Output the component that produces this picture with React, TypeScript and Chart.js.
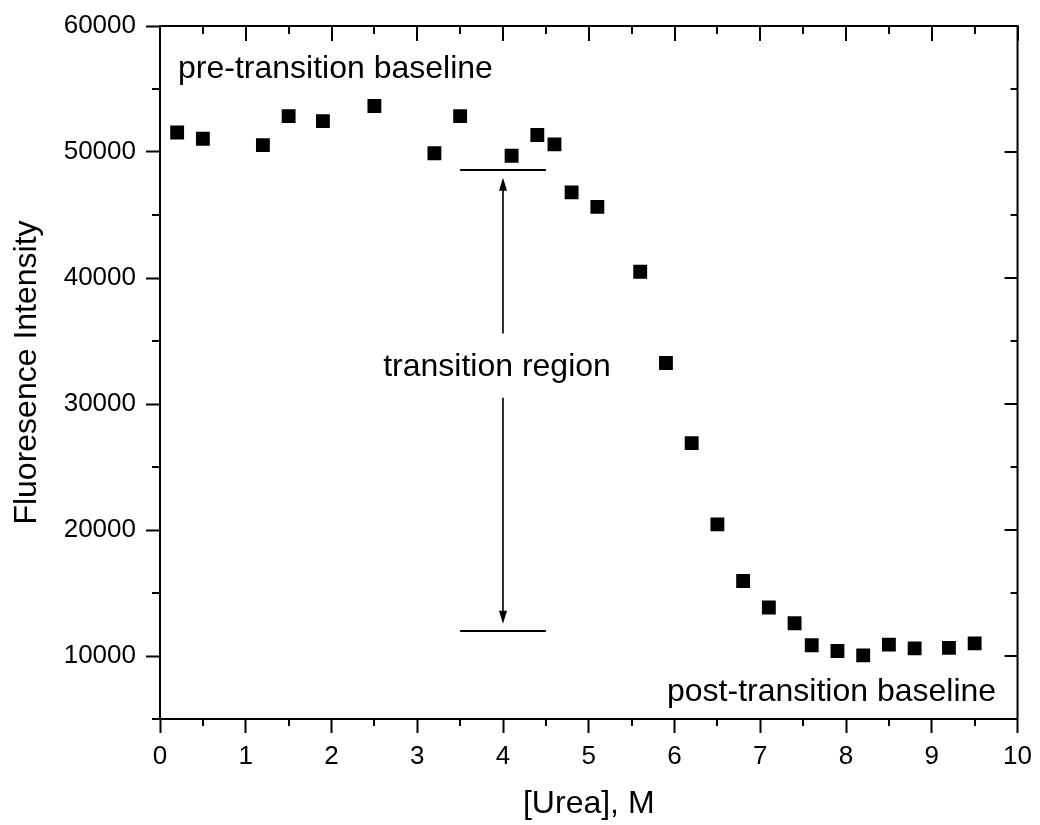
import React, { useEffect, useRef } from 'react';
import { Chart, registerables } from 'chart.js';

Chart.register(...registerables);

// ---- data ----
const ureaM = [0.2, 0.5, 1.2, 1.5, 1.9, 2.5, 3.2, 3.5, 4.1, 4.4, 4.6, 4.8, 5.1, 5.6, 5.9, 6.2, 6.5, 6.8, 7.1, 7.4, 7.6, 7.9, 8.2, 8.5, 8.8, 9.2, 9.5];
const intensity = [51550, 51050, 50550, 52850, 52450, 53650, 49900, 52850, 49700, 51350, 50600, 46800, 45650, 40500, 33250, 26900, 20450, 15950, 13850, 12600, 10850, 10400, 10050, 10900, 10600, 10650, 11000];

const xRange = [0, 10];
const yRange = [5000, 60000];
const xMinorTicks = [0.5, 1.5, 2.5, 3.5, 4.5, 5.5, 6.5, 7.5, 8.5, 9.5];
const xMajorTicks = [0, 1, 2, 3, 4, 5, 6, 7, 8, 9, 10];
const yMinorTicks = [5000, 15000, 25000, 35000, 45000, 55000];
const yMajorTicks = [10000, 20000, 30000, 40000, 50000, 60000];

const xTitle = '[Urea], M';
const yTitle = 'Fluoresence Intensity';

// annotation values (data units)
const preLabel = { text: 'pre-transition baseline', x: 0.21, y: 55850 };
const postLabel = { text: 'post-transition baseline', x: 9.75, y: 6400 };
const regionLabel = { text: 'transition region', x: 3.93, y: 32250 };
const upperBar = { x0: 3.5, x1: 4.5, y: 48550 };
const lowerBar = { x0: 3.5, x1: 4.5, y: 12000 };
const arrow = { x: 4.0, top: 47950, bottom: 12550, gapTop: 35600, gapBottom: 30500 };

const FONT = "'Liberation Sans', Arial, Helvetica, sans-serif";

const framePlugin = {
  id: 'frameAndAnnotations',
  afterDraw(chart: any) {
    const { ctx, chartArea } = chart;
    const { left, right, top, bottom } = chartArea;
    const xs = chart.scales.x;
    const ys = chart.scales.y;
    ctx.save();
    ctx.strokeStyle = '#000';
    ctx.fillStyle = '#000';
    ctx.lineWidth = 2;
    ctx.lineCap = 'butt';
    // top and right frame lines
    ctx.beginPath();
    ctx.moveTo(left - 1, top);
    ctx.lineTo(right + 1, top);
    ctx.moveTo(right, top - 1);
    ctx.lineTo(right, bottom + 1);
    ctx.stroke();
    // minor ticks bottom (outward) and top (inward)
    ctx.beginPath();
    for (const v of xMinorTicks) {
      const px = Math.round(xs.getPixelForValue(v));
      ctx.moveTo(px, bottom);
      ctx.lineTo(px, bottom + 7);
      ctx.moveTo(px, top);
      ctx.lineTo(px, top + 8);
    }
    for (const v of xMajorTicks) {
      const px = Math.round(xs.getPixelForValue(v));
      ctx.moveTo(px, top);
      ctx.lineTo(px, top + 15);
    }
    for (const v of yMinorTicks) {
      const py = Math.round(ys.getPixelForValue(v));
      ctx.moveTo(left, py);
      ctx.lineTo(left - 8, py);
      ctx.moveTo(right, py);
      ctx.lineTo(right - 7, py);
    }
    for (const v of yMajorTicks) {
      const py = Math.round(ys.getPixelForValue(v));
      ctx.moveTo(right, py);
      ctx.lineTo(right - 13, py);
    }
    ctx.stroke();

    // horizontal bars
    ctx.beginPath();
    for (const b of [upperBar, lowerBar]) {
      const py = Math.round(ys.getPixelForValue(b.y));
      ctx.moveTo(xs.getPixelForValue(b.x0), py);
      ctx.lineTo(xs.getPixelForValue(b.x1), py);
    }
    ctx.stroke();

    // double arrow
    const ax = Math.round(xs.getPixelForValue(arrow.x));
    const aTop = ys.getPixelForValue(arrow.top);
    const aBot = ys.getPixelForValue(arrow.bottom);
    const gT = ys.getPixelForValue(arrow.gapTop);
    const gB = ys.getPixelForValue(arrow.gapBottom);
    const headLen = 13;
    const headHalf = 4;
    ctx.lineWidth = 1.6;
    ctx.beginPath();
    ctx.moveTo(ax, aTop + headLen - 1);
    ctx.lineTo(ax, gT);
    ctx.moveTo(ax, gB);
    ctx.lineTo(ax, aBot - headLen + 1);
    ctx.stroke();
    ctx.beginPath();
    ctx.moveTo(ax, aTop);
    ctx.lineTo(ax - headHalf, aTop + headLen);
    ctx.lineTo(ax + headHalf, aTop + headLen);
    ctx.closePath();
    ctx.fill();
    ctx.beginPath();
    ctx.moveTo(ax, aBot);
    ctx.lineTo(ax - headHalf, aBot - headLen);
    ctx.lineTo(ax + headHalf, aBot - headLen);
    ctx.closePath();
    ctx.fill();

    // texts
    ctx.font = `32px ${FONT}`;
    ctx.textBaseline = 'alphabetic';
    ctx.textAlign = 'left';
    ctx.fillText(preLabel.text, xs.getPixelForValue(preLabel.x), ys.getPixelForValue(preLabel.y));
    ctx.textAlign = 'right';
    ctx.fillText(postLabel.text, xs.getPixelForValue(postLabel.x), ys.getPixelForValue(postLabel.y));
    ctx.textAlign = 'center';
    ctx.fillText(regionLabel.text, xs.getPixelForValue(regionLabel.x), ys.getPixelForValue(regionLabel.y));
    ctx.restore();
  },
};

export default function App() {
  const ref = useRef<HTMLCanvasElement | null>(null);
  useEffect(() => {
    if (!ref.current) return;
    const chart = new Chart(ref.current, {
      type: 'scatter',
      data: {
        datasets: [
          {
            label: 'Fluorescence',
            data: ureaM.map((u, i) => ({ x: u, y: intensity[i] })),
            pointStyle: 'rect',
            pointRadius: 9.8,
            pointHoverRadius: 9.8,
            backgroundColor: '#000',
            borderColor: '#000',
            borderWidth: 0,
          },
        ],
      },
      options: {
        responsive: false,
        animation: false,
        events: [],
        layout: { padding: { top: 26, right: 20, left: 0, bottom: 0 } },
        plugins: {
          legend: { display: false },
          tooltip: { enabled: false },
        },
        scales: {
          x: {
            type: 'linear',
            min: xRange[0],
            max: xRange[1],
            afterBuildTicks: (s: any) => {
              s.ticks = xMajorTicks.map((v) => ({ value: v }));
            },
            afterFit: (s: any) => {
              s.height = 106;
            },
            border: { display: true, color: '#000', width: 2 },
            grid: {
              drawOnChartArea: false,
              drawTicks: true,
              tickLength: 14,
              tickWidth: 2,
              tickColor: '#000',
            },
            ticks: {
              autoSkip: false,
              maxRotation: 0,
              padding: 8,
              color: '#000',
              font: { family: FONT, size: 26 },
              callback: (v: any) => String(v),
            },
            title: {
              display: true,
              text: xTitle,
              color: '#000',
              font: { family: FONT, size: 32 },
              padding: { top: 0, bottom: 2 },
            },
          },
          y: {
            type: 'linear',
            min: yRange[0],
            max: yRange[1],
            afterBuildTicks: (s: any) => {
              s.ticks = yMajorTicks.map((v) => ({ value: v }));
            },
            afterFit: (s: any) => {
              s.width = 160;
            },
            border: { display: true, color: '#000', width: 2 },
            grid: {
              drawOnChartArea: false,
              drawTicks: true,
              tickLength: 14,
              tickWidth: 2,
              tickColor: '#000',
            },
            ticks: {
              autoSkip: false,
              padding: 10,
              color: '#000',
              font: { family: FONT, size: 26 },
              callback: (v: any) => String(v),
            },
            title: {
              display: true,
              text: yTitle,
              color: '#000',
              font: { family: FONT, size: 32 },
              padding: { top: 8, bottom: 0 },
            },
          },
        },
      },
      plugins: [framePlugin],
    });
    return () => chart.destroy();
  }, []);
  return (
    <div style={{ position: 'absolute', left: 0, top: 0, width: 1040, height: 825, background: '#fff' }}>
      <canvas ref={ref} width={1040} height={825} style={{ display: 'block' }} />
    </div>
  );
}
